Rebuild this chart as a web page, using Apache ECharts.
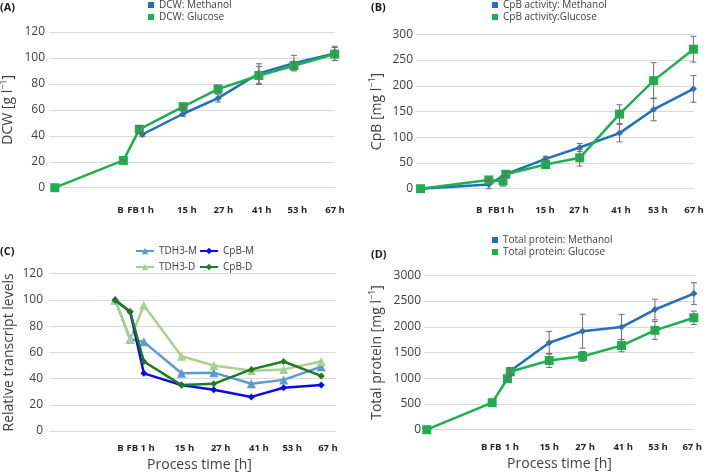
<!DOCTYPE html>
<html><head><meta charset="utf-8">
<script src="https://cdn.jsdelivr.net/npm/echarts@6/dist/echarts.min.js"></script>
<style>html,body{margin:0;padding:0;background:#fff}#c{width:709px;height:474px}</style>
</head><body><div id="c"></div>
<script>
// ---- tick labels ----
const tickLabels = ['B', 'FB', '1 h', '15 h', '27 h', '41 h', '53 h', '67 h'];
const tickPosA = [-6.5, -2.2, 2.6, 16.3, 28.8, 42, 54.2, 67.1];
const tickPosB = [-8.4, -3.2, 1.4, 14.8, 26.7, 41.5, 54.5, 67.2];
const tickPosC = [-7.7, -3.3, 2.4, 16.1, 29.6, 43.8, 56.2, 69.5];
const tickPosD = [-8.4, -4.3, 1.6, 15.0, 27.9, 41.6, 54.1, 66.4];

// ---- (A) DCW ----
const timeA_M = [1, 15, 27, 41, 53, 67];
const dcwMethanol = [41, 57, 69, 88, 96, 103.5];
const dcwMethanolErr = [1.5, 2, 3, 7.5, 6, 5.5];
const timeA_G = [-29, -5.5, 0, 15, 27, 41, 53, 67];
const dcwGlucose = [0, 21, 45, 62.5, 76, 86.5, 94, 103];
const dcwGlucoseErr = [0, 0.5, 3, 1.5, 3, 7, 3, 5];

// ---- (B) CpB activity ----
const timeB_M = [-29, -5, 1, 15, 27, 41, 53, 67];
const cpbMethanol = [0, 8, 28, 58, 80, 108, 154, 194];
const cpbMethanolErr = [0, 8, 5, 5, 8, 17, 22, 26];
const timeB_G = [-29, -5, 0, 1, 15, 27, 41, 53, 67];
const cpbGlucose = [0, 17, 15, 28, 47, 60, 145, 210, 271];
const cpbGlucoseErr = [0, 3, 10, 5, 6, 16, 18, 35, 25];

// ---- (C) transcript levels ----
const timeC = [-9.7, -4.1, 1, 15, 27, 41, 53, 67];
const tdh3M = [100, 70, 68, 44, 44.5, 36, 39, 49];
const cpbM = [100, 91, 44, 35, 31.5, 26, 33, 35];
const tdh3D = [100, 70, 96, 57, 50, 46, 47, 53];
const cpbD = [100, 91, 53, 35, 36, 47, 53, 42];

// ---- (D) total protein ----
const timeD_M = [1, 15, 27, 41, 53, 67];
const protMethanol = [1140, 1690, 1915, 1995, 2335, 2645];
const protMethanolErr = [70, 220, 330, 245, 200, 210];
const timeD_G = [-29, -5.5, 0, 1, 15, 27, 41, 53, 67];
const protGlucose = [0, 525, 990, 1125, 1345, 1425, 1635, 1930, 2175];
const protGlucoseErr = [0, 0, 30, 70, 135, 95, 120, 175, 130];

const BLUE = '#1F70C0', GREEN = '#1DB04E';
const FONT = 'Open Sans';

function pairs(xs, ys) { return xs.map((x, i) => [x, ys[i]]); }
function triples(xs, ys, es) { return xs.map((x, i) => [x, ys[i], es[i]]); }

function xAxisFor(gi, min, max, pos, margin, name, nameGap, namePad) {
  return {
    type: 'value', gridIndex: gi, min: min, max: max,
    axisLine: {show: false}, axisTick: {show: false}, splitLine: {show: false},
    axisLabel: {
      customValues: pos, margin: margin, showMinLabel: true, showMaxLabel: true,
      fontFamily: FONT, fontSize: 9.5, fontWeight: 'bold', color: '#262626',
      formatter: function (v) {
        let best = -1, bd = 1e9;
        pos.forEach((p, i) => { const d = Math.abs(p - v); if (d < bd) { bd = d; best = i; } });
        return bd < 0.01 ? tickLabels[best] : '';
      }
    },
    name: name || '', nameLocation: 'middle', nameGap: nameGap || 0,
    nameTextStyle: {fontFamily: FONT, fontSize: 14, color: '#404040', padding: namePad || 0}
  };
}
function yAxisFor(gi, max, interval, margin, name, nameGap) {
  return {
    type: 'value', gridIndex: gi, min: 0, max: max, interval: interval,
    axisLine: {show: false}, axisTick: {show: false},
    splitLine: {show: true, lineStyle: {color: '#D9D9D9', width: 1}},
    axisLabel: {margin: margin, fontFamily: FONT, fontSize: 12, color: '#404040',
      formatter: function (v) { return String(v); }},
    name: name, nameLocation: 'middle', nameGap: nameGap, nameRotate: 90,
    nameTextStyle: {
      fontFamily: FONT, fontSize: 14, color: '#404040',
      rich: {
        a: {fontFamily: FONT, fontSize: 14, color: '#404040', lineHeight: 18},
        s: {fontFamily: FONT, fontSize: 9, color: '#404040', verticalAlign: 'top', lineHeight: 12}
      }
    }
  };
}
function lineSeries(name, xi, data, color, symbol, size, z) {
  return {
    type: 'line', name: name, xAxisIndex: xi, yAxisIndex: xi, data: data,
    symbol: symbol, symbolSize: size, showSymbol: true, animation: false,
    lineStyle: {color: color, width: 2.5}, itemStyle: {color: color},
    emphasis: {disabled: true}, z: z || 2
  };
}
function errSeries(xi, data) {
  return {
    type: 'custom', xAxisIndex: xi, yAxisIndex: xi, data: data, z: 10, silent: true, animation: false,
    renderItem: function (params, api) {
      const x = api.value(0), y = api.value(1), e = api.value(2);
      if (!e) return null;
      const t = api.coord([x, y + e]), b = api.coord([x, y - e]);
      const w = 3, st = {stroke: '#6E6E6E', lineWidth: 1};
      return {type: 'group', children: [
        {type: 'line', shape: {x1: t[0], y1: t[1], x2: b[0], y2: b[1]}, style: st},
        {type: 'line', shape: {x1: t[0] - w, y1: t[1], x2: t[0] + w, y2: t[1]}, style: st},
        {type: 'line', shape: {x1: b[0] - w, y1: b[1], x2: b[0] + w, y2: b[1]}, style: st}
      ]};
    }
  };
}
function legendItem(name, left, top, icon, w, h) {
  const l = {
    data: [name], left: left, top: top, orient: 'horizontal', padding: 0,
    itemWidth: w, itemHeight: h, selectedMode: false,
    textStyle: {fontFamily: FONT, fontSize: 10, color: '#404040', lineHeight: 12}
  };
  if (icon) l.icon = icon;
  return l;
}
function title(t, left, top) {
  return {text: t, left: left, top: top, padding: 0,
    textStyle: {fontFamily: FONT, fontSize: 11, fontWeight: 'bold', color: '#1a1a1a'}};
}

const chart = echarts.init(document.getElementById('c'), null, {renderer: 'canvas'});
chart.setOption({
  animation: false,
  backgroundColor: '#fff',
  textStyle: {fontFamily: FONT},
  title: [title('(A)', 0, 2), title('(B)', 371, 2), title('(C)', 0, 246), title('(D)', 371, 249)],
  legend: [
    legendItem('DCW: Methanol', 148, -1, 'rect', 6, 6),
    legendItem('DCW: Glucose', 148, 11, 'rect', 6, 6),
    legendItem('CpB activity: Methanol', 492, -1, 'rect', 6, 6),
    legendItem('CpB activity:Glucose', 492, 11, 'rect', 6, 6),
    legendItem('TDH3-M', 135, 245, null, 18, 8),
    legendItem('CpB-M', 199, 245, null, 18, 8),
    legendItem('TDH3-D', 135, 261, null, 18, 8),
    legendItem('CpB-D', 199, 261, null, 18, 8),
    legendItem('Total protein: Methanol', 492, 234, 'rect', 6, 6),
    legendItem('Total protein: Glucose', 492, 246, 'rect', 6, 6)
  ],
  grid: [
    {left: 49, top: 32, width: 286, height: 155.7, outerBoundsMode: 'none'},
    {left: 416, top: 34.3, width: 278, height: 154.4, outerBoundsMode: 'none'},
    {left: 49, top: 273.7, width: 287, height: 157.3, outerBoundsMode: 'none'},
    {left: 424, top: 275.3, width: 271, height: 154.4, outerBoundsMode: 'none'}
  ],
  xAxis: [
    xAxisFor(0, -31, 67.1, tickPosA, 18),
    xAxisFor(1, -30.6, 67.2, tickPosB, 17),
    xAxisFor(2, -34.3, 72.5, tickPosC, 12, 'Process time [h]', 27, [0, 0, 0, 14]),
    xAxisFor(3, -30, 67.4, tickPosD, 13, 'Process time [h]', 27)
  ],
  yAxis: [
    yAxisFor(0, 120, 20, 4, '{a|DCW [g l}{s|−1}{a|]}', 32),
    yAxisFor(1, 300, 50, 3, '{a|CpB [mg l}{s|−1}{a|]}', 30),
    yAxisFor(2, 120, 20, 6, 'Relative transcript levels', 33),
    yAxisFor(3, 3000, 500, 3, '{a|Total protein [mg l}{s|−1}{a|]}', 38)
  ],
  series: [
    lineSeries('DCW: Methanol', 0, pairs(timeA_M, dcwMethanol), BLUE, 'diamond', 7, 2),
    lineSeries('DCW: Glucose', 0, pairs(timeA_G, dcwGlucose), GREEN, 'rect', 9, 3),
    errSeries(0, triples(timeA_M, dcwMethanol, dcwMethanolErr)),
    errSeries(0, triples(timeA_G, dcwGlucose, dcwGlucoseErr)),

    lineSeries('CpB activity: Methanol', 1, pairs(timeB_M, cpbMethanol), BLUE, 'diamond', 7, 2),
    lineSeries('CpB activity:Glucose', 1, pairs(timeB_G, cpbGlucose), GREEN, 'rect', 9, 3),
    errSeries(1, triples(timeB_M, cpbMethanol, cpbMethanolErr)),
    errSeries(1, triples(timeB_G, cpbGlucose, cpbGlucoseErr)),

    lineSeries('TDH3-M', 2, pairs(timeC, tdh3M), '#5B9BD5', 'triangle', 9, 2),
    lineSeries('CpB-M', 2, pairs(timeC, cpbM), '#0A0AE6', 'diamond', 7, 3),
    lineSeries('TDH3-D', 2, pairs(timeC, tdh3D), '#A9D18E', 'triangle', 9, 2),
    lineSeries('CpB-D', 2, pairs(timeC, cpbD), '#1B7D1B', 'diamond', 7, 4),

    lineSeries('Total protein: Methanol', 3, pairs(timeD_M, protMethanol), BLUE, 'diamond', 7, 2),
    lineSeries('Total protein: Glucose', 3, pairs(timeD_G, protGlucose), GREEN, 'rect', 9, 3),
    errSeries(3, triples(timeD_M, protMethanol, protMethanolErr)),
    errSeries(3, triples(timeD_G, protGlucose, protGlucoseErr))
  ]
});
</script>
</body></html>
